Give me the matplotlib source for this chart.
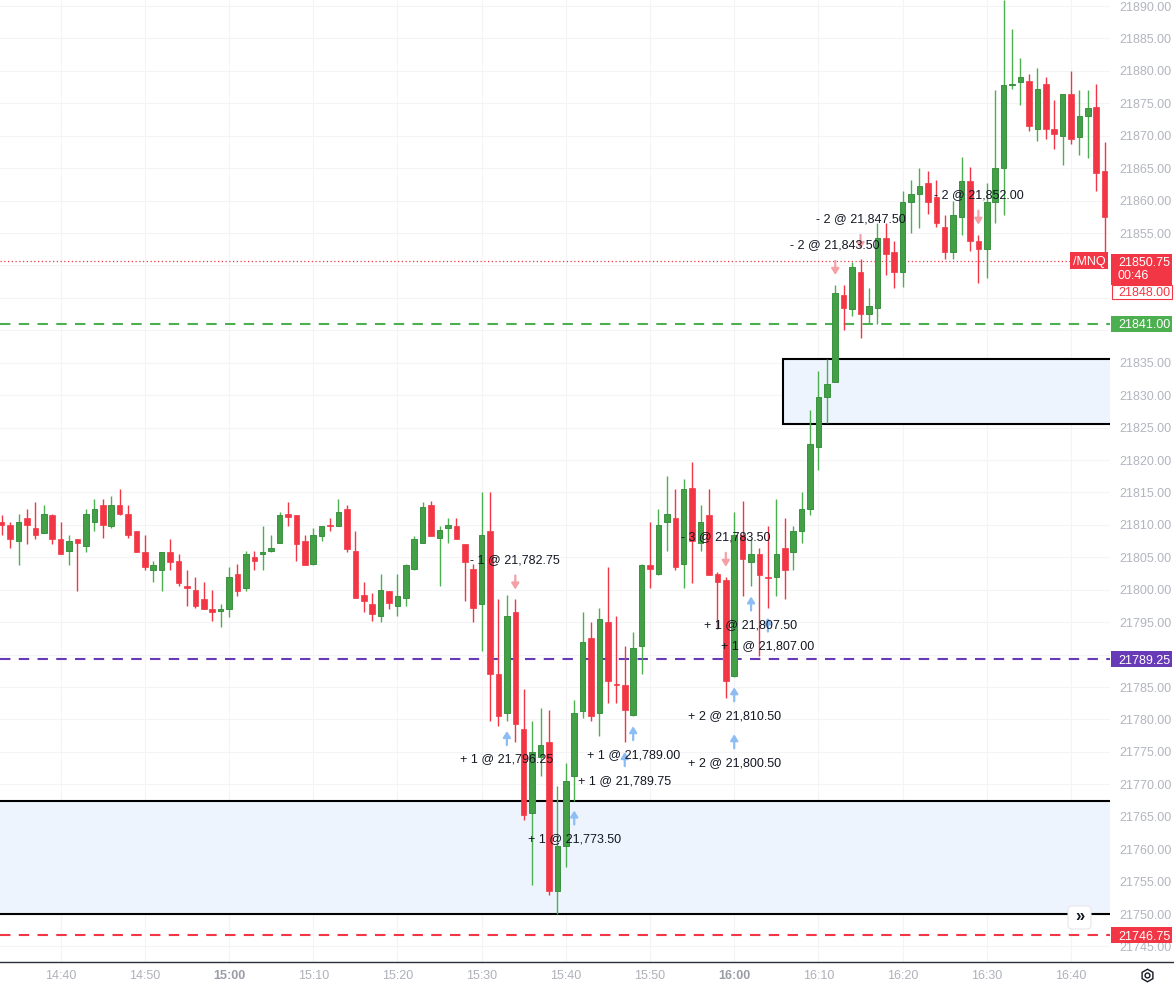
import numpy as np
import matplotlib
matplotlib.use('Agg')
import matplotlib.pyplot as plt
from matplotlib.patches import Rectangle, FancyBboxPatch
from matplotlib.lines import Line2D
from matplotlib.transforms import IdentityTransform, offset_copy

plt.rcParams['font.family'] = ['Liberation Sans', 'DejaVu Sans']

# ---------------- data (1-minute candles from 14:33 to 16:44) ----------------
opens = [21810.5, 21810.0, 21807.5, 21811.0, 21809.5, 21808.75, 21811.5, 21807.75, 21806.0, 21807.75,
         21806.75, 21810.5, 21813.0, 21809.75, 21813.0, 21811.75, 21809.0, 21805.75, 21803.0, 21803.0,
         21805.75, 21804.5, 21800.5, 21800.0, 21798.5, 21797.0, 21796.75, 21797.0, 21802.5, 21800.25,
         21805.0, 21805.5, 21806.0, 21807.25, 21811.75, 21811.5, 21807.5, 21804.0, 21808.25, 21810.0,
         21809.75, 21812.5, 21806.0, 21799.25, 21797.75, 21796.0, 21799.75, 21797.5, 21798.75, 21803.25,
         21807.25, 21813.0, 21808.0, 21809.5, 21809.75, 21807.0, 21803.25, 21797.75, 21809.0, 21787.0,
         21781.0, 21796.5, 21778.5, 21765.5, 21774.25, 21776.5, 21753.5, 21760.5, 21771.25, 21781.25,
         21792.5, 21781.0, 21795.0, 21785.5, 21785.25, 21780.75, 21791.25, 21803.75, 21802.5, 21810.5,
         21811.0, 21804.0, 21815.75, 21807.25, 21811.5, 21802.5, 21801.5, 21786.75, 21808.5, 21804.25,
         21805.5, 21802.0, 21802.0, 21806.5, 21805.75, 21809.0, 21812.5, 21822.0, 21829.75, 21832.0,
         21845.5, 21843.25, 21849.0, 21842.5, 21843.5, 21854.25, 21852.0, 21849.0, 21859.75, 21861.0,
         21862.75, 21860.5, 21856.0, 21852.0, 21857.5, 21863.0, 21853.75, 21852.5, 21859.75, 21865.0,
         21877.75, 21878.25, 21878.5, 21871.0, 21878.0, 21871.0, 21870.0, 21876.5, 21869.75, 21873.0,
         21874.5, 21864.5]
highs = [21811.5, 21810.5, 21811.75, 21812.5, 21813.5, 21813.0, 21811.75, 21810.5, 21808.5, 21807.75,
         21812.5, 21814.0, 21814.0, 21814.5, 21815.5, 21813.0, 21809.0, 21808.5, 21804.5, 21805.75,
         21807.75, 21805.5, 21803.0, 21802.0, 21801.25, 21800.0, 21797.75, 21803.5, 21804.0, 21806.0,
         21806.0, 21809.75, 21808.5, 21812.0, 21813.5, 21811.5, 21808.5, 21809.5, 21809.75, 21811.0,
         21814.0, 21813.0, 21809.0, 21801.25, 21799.5, 21802.5, 21799.75, 21802.5, 21804.0, 21808.25,
         21813.5, 21813.75, 21809.75, 21811.0, 21811.0, 21807.0, 21804.0, 21815.0, 21815.0, 21798.5,
         21799.25, 21798.5, 21784.75, 21779.75, 21781.75, 21781.5, 21769.75, 21773.25, 21783.0, 21796.5,
         21795.0, 21797.25, 21803.5, 21796.0, 21791.25, 21793.5, 21804.0, 21810.5, 21812.5, 21817.5,
         21815.5, 21817.0, 21819.75, 21813.0, 21815.5, 21802.75, 21802.0, 21812.0, 21813.75, 21807.75,
         21806.5, 21809.75, 21814.0, 21811.0, 21809.75, 21815.0, 21827.75, 21833.75, 21835.5, 21847.0,
         21847.0, 21850.5, 21851.0, 21846.5, 21856.5, 21856.5, 21853.75, 21861.5, 21863.25, 21865.0,
         21864.5, 21863.25, 21857.75, 21860.0, 21866.75, 21865.25, 21854.75, 21862.75, 21877.0, 21891.0,
         21886.5, 21882.0, 21879.5, 21880.5, 21879.0, 21875.5, 21876.5, 21880.0, 21877.0, 21877.0,
         21878.0, 21869.0]
lows = [21808.5, 21806.5, 21803.75, 21807.0, 21807.75, 21808.75, 21807.0, 21805.5, 21803.75, 21799.75,
        21805.75, 21809.0, 21808.0, 21809.5, 21811.5, 21808.0, 21805.75, 21803.0, 21801.25, 21799.75,
        21803.0, 21800.5, 21797.5, 21797.25, 21797.0, 21795.25, 21794.25, 21795.75, 21799.0, 21799.75,
        21803.0, 21803.0, 21805.75, 21807.25, 21809.75, 21804.5, 21803.75, 21803.75, 21807.5, 21809.0,
        21809.75, 21805.75, 21798.75, 21796.5, 21795.25, 21795.0, 21797.0, 21796.0, 21797.5, 21803.0,
        21807.25, 21808.25, 21800.5, 21807.25, 21807.75, 21798.25, 21795.0, 21790.5, 21779.75, 21779.0,
        21779.75, 21776.5, 21764.5, 21754.5, 21771.25, 21753.0, 21750.0, 21757.25, 21767.5, 21780.25,
        21779.75, 21777.5, 21782.5, 21782.5, 21776.5, 21780.5, 21787.0, 21800.25, 21802.25, 21806.0,
        21803.0, 21800.25, 21801.0, 21806.0, 21802.25, 21794.0, 21783.25, 21786.5, 21799.0, 21800.5,
        21789.75, 21797.25, 21799.0, 21798.5, 21803.0, 21807.25, 21811.5, 21818.5, 21825.75, 21832.0,
        21840.0, 21842.25, 21838.75, 21841.0, 21841.0, 21848.5, 21846.5, 21846.75, 21855.0, 21855.75,
        21858.0, 21856.0, 21851.0, 21851.0, 21854.75, 21852.25, 21847.25, 21848.0, 21856.5, 21857.75,
        21877.25, 21874.75, 21870.75, 21869.25, 21869.5, 21868.0, 21865.5, 21868.75, 21867.0, 21866.5,
        21861.5, 21850.75]
closes = [21810.0, 21807.75, 21810.5, 21810.0, 21808.5, 21811.75, 21807.75, 21805.5, 21807.5, 21807.25,
          21811.75, 21812.5, 21810.0, 21813.0, 21811.75, 21808.5, 21805.75, 21803.5, 21803.75, 21805.75,
          21804.25, 21801.0, 21800.25, 21797.5, 21797.0, 21796.5, 21797.0, 21802.0, 21799.75, 21805.5,
          21804.5, 21805.75, 21806.5, 21811.5, 21811.25, 21807.0, 21803.75, 21808.5, 21809.75, 21809.75,
          21812.0, 21806.25, 21798.75, 21798.25, 21796.25, 21800.0, 21798.0, 21799.0, 21803.75, 21807.75,
          21812.75, 21808.25, 21809.25, 21810.0, 21807.75, 21804.25, 21797.25, 21808.5, 21787.0, 21780.5,
          21796.0, 21779.25, 21765.25, 21775.0, 21776.0, 21753.5, 21760.5, 21770.5, 21781.0, 21792.0,
          21780.5, 21795.5, 21786.0, 21785.25, 21781.5, 21791.0, 21803.75, 21803.25, 21810.0, 21811.75,
          21803.5, 21815.5, 21807.5, 21810.5, 21802.25, 21801.25, 21786.0, 21808.5, 21804.75, 21805.5,
          21802.25, 21801.75, 21805.5, 21803.0, 21809.0, 21812.5, 21822.5, 21829.75, 21831.75, 21845.75,
          21843.5, 21849.75, 21842.5, 21843.75, 21854.25, 21851.75, 21849.0, 21859.75, 21861.0, 21862.25,
          21859.75, 21856.5, 21852.0, 21857.75, 21863.0, 21853.75, 21852.5, 21859.75, 21865.0, 21877.75,
          21878.0, 21879.0, 21871.5, 21877.25, 21871.0, 21870.25, 21876.5, 21869.5, 21873.0, 21874.25,
          21864.25, 21857.5]

time_labels = ['14:40', '14:50', '15:00', '15:10', '15:20', '15:30', '15:40',
               '15:50', '16:00', '16:10', '16:20', '16:30', '16:40']
time_label_idx = [7, 17, 27, 37, 47, 57, 67, 77, 87, 97, 107, 117, 127]
bold_labels = ['15:00', '16:00']

price_ticks = list(np.arange(21745, 21891, 5))
# scale labels hidden behind the price tags
hidden_price_labels = [21850, 21845, 21840, 21790]

# trade executions: candle index, signed quantity, fill price, stack slot
trade_idx = [61, 86, 99, 102, 116, 60, 68, 74, 75, 87, 87, 89, 91]
trade_qty = [-1, -3, -2, -2, -2, 1, 1, 1, 1, 2, 2, 1, 1]
trade_px = [21782.75, 21783.50, 21843.50, 21847.50, 21852.00, 21796.25, 21773.50,
            21789.75, 21789.00, 21810.50, 21800.50, 21807.50, 21807.00]
trade_slot = [0, 0, 0, 0, 0, 0, 0, 0, 0, 0, 1, 0, 0]

symbol = '/MNQ'
last_price = 21850.75
countdown = '00:46'
order_price = 21848.00
level_prices = [21841.00, 21789.25, 21746.75]
level_colors = ['#4caf50', '#673ab7', '#f23645']
zone_low = [21825.5, 21750.0]
zone_high = [21835.5, 21767.5]
zone_start = [92.85, -5.0]

# ---------------- figure ----------------
W, H = 1174, 983
fig = plt.figure(figsize=(W / 100, H / 100), dpi=100)
fig.patch.set_facecolor('white')
ax = fig.add_axes([0, 21 / H, 1110 / W, 962 / H])
ax.set_facecolor('white')
ax.set_xlim(-0.2, 131.63)
ax.set_ylim(21742.6, 21890.93)
ax.set_autoscale_on(False)

GREEN_BODY = '#43a047'
GREEN_EDGE = '#3a9140'
GREEN_WICK = '#4caf50'
RED = '#f23645'

# zones
for lo, hi, st in zip(zone_low, zone_high, zone_start):
    ax.add_patch(Rectangle((st, lo), 200, hi - lo, facecolor='#edf4fe',
                           edgecolor='black', lw=1.5, zorder=1))

# level lines
for p, col in zip(level_prices, level_colors):
    ax.axhline(p, color=col, lw=1.5, ls=(0, (5, 4)), zorder=2)
ax.axhline(last_price, color=RED, lw=0.9, ls=(0, (1, 2)), zorder=2)

# candles
o = np.array(opens); h = np.array(highs); l = np.array(lows); c = np.array(closes)
x = np.arange(len(o))
up = c >= o
ax.vlines(x[up], l[up], h[up], colors=GREEN_WICK, lw=1.0, zorder=3)
ax.vlines(x[~up], l[~up], h[~up], colors=RED, lw=1.0, zorder=3)
bh = np.maximum(np.abs(c - o), 0.2)
bb = np.minimum(o, c)
ax.bar(x[up], bh[up], bottom=bb[up], width=0.66, color=GREEN_BODY,
       edgecolor=GREEN_EDGE, lw=0.7, zorder=4)
ax.bar(x[~up], bh[~up], bottom=bb[~up], width=0.66, color=RED,
       edgecolor=RED, lw=0.5, zorder=4)

# trade markers
for i, q, p, s in zip(trade_idx, trade_qty, trade_px, trade_slot):
    label = ('+ ' if q > 0 else '- ') + f'{abs(q)} @ {p:,.2f}'
    if q > 0:
        base = l[i]
        off = -47 * s
        tip, tail, txt = off - 10, off - 24, off - 37
        col = '#8dbdf5'
    else:
        base = h[i]
        tip, tail, txt = 10, 24, 41
        col = '#f5a0a7'
    ax.annotate('', xy=(i, base), xycoords=offset_copy(ax.transData, fig=fig, y=tip, units='dots'),
                xytext=(i, base), textcoords=offset_copy(ax.transData, fig=fig, y=tail, units='dots'),
                arrowprops=dict(arrowstyle='-|>,head_length=0.35,head_width=0.22', color=col,
                                lw=1.6, shrinkA=0, shrinkB=0), zorder=6, annotation_clip=False)
    ax.annotate(label, xy=(i, base), xycoords='data', xytext=(0, txt * 0.72),
                textcoords='offset points', ha='center', va='center_baseline',
                fontsize=9, color='#131722', zorder=7)

# grid & axes
ax.set_xticks(time_label_idx)
ax.set_xticklabels(time_labels)
ax.set_yticks(price_ticks)
ax.set_yticklabels(['' if v in hidden_price_labels else f'{v:.2f}' for v in price_ticks])
ax.yaxis.tick_right()
ax.tick_params(axis='y', length=0, pad=6.5, labelsize=9, labelcolor='#b2b5be')
ax.tick_params(axis='x', length=0, pad=6, labelsize=9, labelcolor='#aeb1b9')
for t in ax.get_xticklabels():
    if t.get_text() in bold_labels:
        t.set_fontweight('bold')
        t.set_color('#9a9da6')
ax.grid(True, color='#f4f4f6', lw=0.8, zorder=0)
ax.set_axisbelow(True)
for sp in ax.spines.values():
    sp.set_visible(False)

# bottom separator line
fig.add_artist(Line2D([0, 1], [21 / H, 21 / H], transform=fig.transFigure, color='#2a2e39', lw=1.0))


def ydisp(price):
    return ax.transData.transform((0, price))[1]


ID = IdentityTransform()
# level tags
for p, col in zip(level_prices, level_colors):
    yc = ydisp(p)
    fig.add_artist(Rectangle((1111, yc - 8), 61, 16, transform=ID, facecolor=col, edgecolor='none', zorder=10))
    fig.text(1118, yc, f'{p:.2f}', transform=ID, color='white', fontsize=9, va='center_baseline', ha='left', zorder=11)

# last price tag
yc = ydisp(last_price)
fig.add_artist(Rectangle((1111, yc - 24), 61, 31, transform=ID, facecolor=RED, edgecolor='none', zorder=10))
fig.text(1118, yc - 1, f'{last_price:.2f}', transform=ID, color='white', fontsize=9, va='center_baseline', zorder=11)
fig.text(1118, yc - 14, countdown, transform=ID, color='white', fontsize=9, va='center_baseline', zorder=11)
fig.add_artist(Rectangle((1111.5, yc - 38), 60, 14, transform=ID, facecolor='white', edgecolor=RED, lw=0.8, zorder=10))
fig.text(1118, yc - 31, f'{order_price:.2f}', transform=ID, color=RED, fontsize=9, va='center_baseline', zorder=11)
fig.add_artist(Rectangle((1070, yc - 8), 38, 17, transform=ID, facecolor=RED, edgecolor='none', zorder=10))
fig.text(1089, yc, symbol, transform=ID, color='white', fontsize=9, ha='center', va='center_baseline', zorder=11)

# scroll button
fig.add_artist(FancyBboxPatch((1068, H - 929), 23, 23, boxstyle='round,pad=0,rounding_size=4', transform=ID,
                              facecolor='white', edgecolor='#e6e7ea', lw=0.8, zorder=10))
fig.text(1079.5, H - 917, '»', transform=ID, color='#131722', fontsize=12, fontweight='bold',
         ha='center', va='center', zorder=11)
# settings icon
fig.add_artist(Line2D([1147], [H - 975], marker='h', ms=9, mfc='none', mec='#131722', mew=1.0,
                      transform=ID, zorder=11))
fig.add_artist(Line2D([1147], [H - 975], marker='o', ms=3.5, mfc='none', mec='#131722', mew=1.0,
                      transform=ID, zorder=11))

fig.savefig('out.png', dpi=100, facecolor='white')
